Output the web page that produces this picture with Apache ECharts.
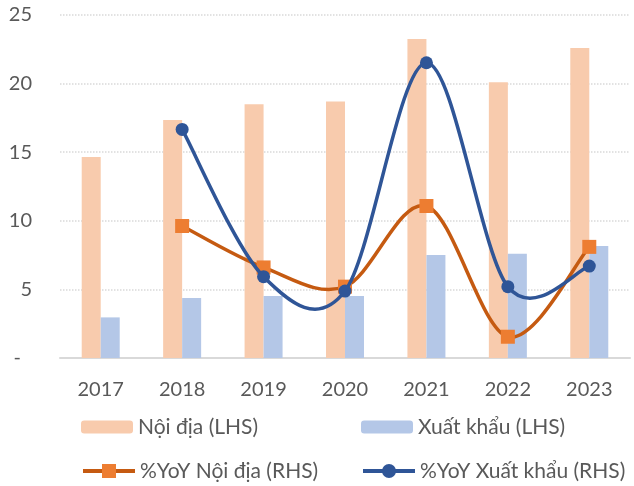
<!DOCTYPE html>
<html>
<head>
<meta charset="utf-8">
<script src="https://cdn.jsdelivr.net/npm/echarts@6/dist/echarts.min.js"></script>
<style>
  html, body { margin: 0; padding: 0; background: #fff; }
  #chart { width: 634px; height: 486px; }
</style>
</head>
<body>
<div id="chart"></div>
<script>
// số liệu
const years = ['2017', '2018', '2019', '2020', '2021', '2022', '2023']
const noiDia = [14.65, 17.35, 18.5, 18.7, 23.25, 20.1, 22.6]
const xuatKhau = [2.96, 4.37, 4.52, 4.52, 7.5, 7.6, 8.16]
const yoyNoiDia = [null, 9.62, 6.6, 5.2, 11.08, 1.55, 8.1]
const yoyXuatKhau = [null, 16.66, 5.93, 4.88, 21.52, 5.2, 6.7]
const yTicks = [0, 5, 10, 15, 20, 25]

const FONT = 'Lato'
const TEXT = '#595959'
const ORANGE_LINE = '#C55A11'
const ORANGE_MARK = '#ED7D31'
const BLUE_LINE = '#2F5597'
const LINE_W = 3.5

const chart = echarts.init(document.getElementById('chart'))

function legendAt (name, left, top, itemHeight) {
  return {
    data: [name],
    left: left,
    top: top,
    itemWidth: 52,
    itemHeight: itemHeight,
    itemGap: 6,
    padding: 0,
    lineStyle: { opacity: 1, width: 4 },
    textStyle: { fontFamily: FONT, fontSize: 21, color: TEXT }
  }
}

// đường cong kiểu Excel (Catmull-Rom) vẽ bằng custom series, toạ độ lấy qua api.coord
function smoothCurve (values, color, z) {
  return {
    type: 'custom',
    yAxisIndex: 1,
    silent: true,
    z: z,
    data: values.map((v, i) => [i, v]),
    encode: { x: 0, y: 1 },
    renderItem: function (params, api) {
      const i = params.dataIndex
      if (values[i] == null || i + 1 >= values.length || values[i + 1] == null) return null
      const pt = k => api.coord([k, values[k]])
      const p1 = pt(i)
      const p2 = pt(i + 1)
      const p0 = (i - 1 >= 0 && values[i - 1] != null) ? pt(i - 1) : p1
      const p3 = (i + 2 < values.length && values[i + 2] != null) ? pt(i + 2) : p2
      return {
        type: 'bezierCurve',
        shape: {
          x1: p1[0], y1: p1[1],
          x2: p2[0], y2: p2[1],
          cpx1: p1[0] + (p2[0] - p0[0]) / 6,
          cpy1: p1[1] + (p2[1] - p0[1]) / 6,
          cpx2: p2[0] - (p3[0] - p1[0]) / 6,
          cpy2: p2[1] - (p3[1] - p1[1]) / 6
        },
        style: { stroke: color, lineWidth: LINE_W, fill: null, lineCap: 'round' }
      }
    }
  }
}

const option = {
  animation: false,
  backgroundColor: '#fff',
  legend: [
    legendAt('Nội địa (LHS)', 81, 416.5, 13),
    legendAt('Xuất khẩu (LHS)', 361, 416.5, 13),
    legendAt('%YoY Nội địa (RHS)', 81, 460.5, 17.5),
    legendAt('%YoY Xuất khẩu (RHS)', 361, 460.5, 17.5)
  ],
  grid: { left: 60, right: 4, top: 15, bottom: 128 },
  xAxis: {
    type: 'category',
    data: years,
    axisTick: { show: false },
    axisLine: { lineStyle: { color: '#d9d9d9', width: 2 } },
    axisLabel: { margin: 22, fontFamily: FONT, fontSize: 20, color: TEXT }
  },
  yAxis: [
    {
      type: 'value',
      min: yTicks[0],
      max: yTicks[yTicks.length - 1],
      interval: 5,
      axisLine: { show: false },
      axisTick: { show: false },
      splitLine: { lineStyle: { color: '#d9d9d9', type: 'dotted', width: 1.5 } },
      axisLabel: {
        margin: 28,
        fontFamily: FONT,
        fontSize: 20,
        color: TEXT,
        formatter: v => (v === 0 ? '{d|-}' : String(v)),
        rich: { d: { fontFamily: FONT, fontSize: 20, color: TEXT, padding: [0, 11, 0, 0] } }
      }
    },
    {
      type: 'value',
      min: 0,
      max: 25,
      interval: 5,
      show: false
    }
  ],
  series: [
    {
      name: 'Nội địa (LHS)',
      type: 'bar',
      data: noiDia,
      barWidth: 19,
      barGap: '0%',
      itemStyle: { color: '#F8CBAD' }
    },
    {
      name: 'Xuất khẩu (LHS)',
      type: 'bar',
      data: xuatKhau,
      barWidth: 19,
      itemStyle: { color: '#B4C7E7' }
    },
    smoothCurve(yoyNoiDia, ORANGE_LINE, 3),
    {
      name: '%YoY Nội địa (RHS)',
      type: 'line',
      yAxisIndex: 1,
      data: yoyNoiDia,
      symbol: 'rect',
      symbolSize: 14,
      lineStyle: { color: ORANGE_LINE, width: LINE_W, opacity: 0 },
      itemStyle: { color: ORANGE_MARK },
      z: 4
    },
    smoothCurve(yoyXuatKhau, BLUE_LINE, 5),
    {
      name: '%YoY Xuất khẩu (RHS)',
      type: 'line',
      yAxisIndex: 1,
      data: yoyXuatKhau,
      symbol: 'circle',
      symbolSize: 13,
      lineStyle: { color: BLUE_LINE, width: LINE_W, opacity: 0 },
      itemStyle: { color: BLUE_LINE },
      z: 6
    }
  ]
}

chart.setOption(option)
</script>
</body>
</html>
